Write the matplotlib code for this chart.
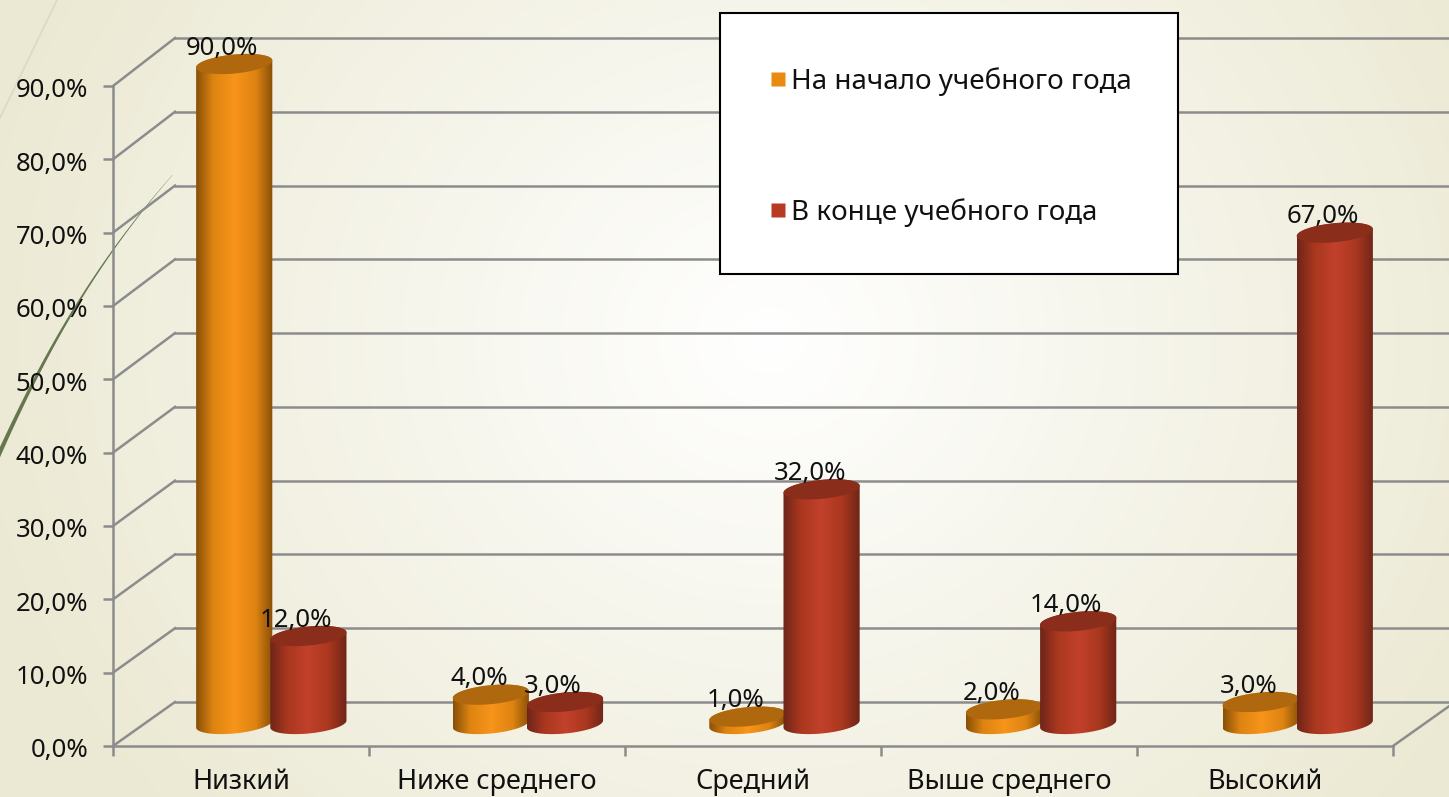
import numpy as np
import matplotlib
matplotlib.use('Agg')
import matplotlib.pyplot as plt
from matplotlib.colors import LinearSegmentedColormap
from matplotlib.lines import Line2D
from matplotlib.patches import PathPatch, Polygon, Rectangle
from matplotlib.path import Path
from matplotlib.ticker import FuncFormatter
from matplotlib.transforms import Affine2D

categories = ['Низкий', 'Ниже среднего', 'Средний', 'Выше среднего', 'Высокий']
start_year = [90, 4, 1, 2, 3]
end_year = [12, 3, 32, 14, 67]
series_names = ['На начало учебного года', 'В конце учебного года']
yticks = [0, 10, 20, 30, 40, 50, 60, 70, 80, 90]

W, H = 1449, 797
plt.rcParams['font.family'] = ['Noto Sans', 'DejaVu Sans']
fig = plt.figure(figsize=(W / 100, H / 100), dpi=100)

# background
bg = fig.add_axes([0, 0, 1, 1], zorder=-1)
gx, gy = np.meshgrid(np.linspace(0, W, 300), np.linspace(0, H, 170))
d = np.clip(np.sqrt(((gx - 770) / 800) ** 2 + ((gy - 340) / 720) ** 2), 0, 1)[..., None]
edge = np.array([0.925, 0.915, 0.83])
bg.imshow(np.ones(3) * (1 - d) + edge * d, extent=[0, W, H, 0], aspect='auto', interpolation='bilinear')
bg.set_xlim(0, W)
bg.set_ylim(H, 0)
bg.axis('off')

# slide decoration
bg.plot([57, 0], [0, 118], color='#d8dac8', lw=1.2)
fit = np.polyfit([175, 200, 257, 323, 380, 453], [175, 147, 110, 67, 33, 0], 3)
cy = np.linspace(175, 460, 60)
cx = np.polyval(fit, cy)
cw = np.linspace(0.15, 2.4, 60)
bg.add_patch(Polygon(np.r_[np.c_[cx - cw, cy], np.c_[cx + cw, cy][::-1]], fc='#66774f', ec='none'))

# plot area is the front plane of the box
ax = fig.add_axes([113 / W, (H - 746) / H, 1280 / W, 660 / H])
ax.patch.set_alpha(0)
ax.set_xlim(0, 5)
ax.set_ylim(0, 90)

grid_color = '#8c8c8c'
grid_lw = 1.8
back = ax.transData + Affine2D().translate(62, 44)
mid = ax.transData + Affine2D().translate(-113, 0).scale(256.6 / 256, 1).translate(113 + 30, 22)
wall = 664 / 660

for v in yticks:
    ax.plot([0, 5], [v * wall, v * wall], transform=back, color=grid_color, lw=grid_lw, clip_on=False, zorder=1)
    # side wall diagonal
    p0 = ax.transData.transform((0, v))
    p1 = back.transform((0, v * wall))
    ax.add_line(Line2D([p0[0], p1[0]], [p0[1], p1[1]], transform=None, color=grid_color, lw=grid_lw, zorder=1, clip_on=False))
p0 = ax.transData.transform((5, 0))
p1 = back.transform((5, 0))
ax.add_line(Line2D([p0[0], p1[0]], [p0[1], p1[1]], transform=None, color=grid_color, lw=grid_lw, zorder=1, clip_on=False))

for s in ['top', 'right']:
    ax.spines[s].set_visible(False)
for s in ['left', 'bottom']:
    ax.spines[s].set_color(grid_color)
    ax.spines[s].set_linewidth(grid_lw)

ax.set_yticks(yticks)
ax.yaxis.set_major_formatter(FuncFormatter(lambda v, pos: f'{v:.1f}%'.replace('.', ',')))
ax.set_xticks(range(6))
ax.set_xticklabels([])
ax.set_xticks([i + 0.5 for i in range(5)], categories, minor=True)
ax.tick_params(axis='y', length=7, width=grid_lw, color=grid_color, labelsize=18.5, pad=11, labelcolor='#111111')
ax.tick_params(axis='x', which='major', length=7, width=grid_lw, color=grid_color)
ax.tick_params(axis='x', which='minor', length=0, labelsize=19.5, pad=16, labelcolor='#111111')
for lab in ax.get_yticklabels():
    lab.set_transform(lab.get_transform() + Affine2D().translate(0, -2))

px_x = 5 / 1280
px_y = 90 / 660
bar_w = 76 * px_x


def shade(c_edge, c_side, c_mid):
    return LinearSegmentedColormap.from_list('c', [(0, c_edge), (0.22, c_side), (0.5, c_mid), (0.78, c_side), (1, c_edge)])


def cylinder(xc, val, cmap, top_color, z):
    a = bar_w / 2
    b = 9.5 * px_y
    s = 3.5 * px_y
    t = np.linspace(0, 2 * np.pi, 120)
    # lower half of base + upper half of top
    t_low = np.linspace(np.pi, 2 * np.pi, 60)
    t_up = np.linspace(0, np.pi, 60)
    ex = np.r_[xc + a * np.cos(t_low), xc + a * np.cos(t_up)]
    ey = np.r_[b * np.sin(t_low) + s * np.cos(t_low), val + b * np.sin(t_up) + s * np.cos(t_up)]
    body = PathPatch(Path(np.c_[ex, ey]), transform=mid, fc='none', ec='none', zorder=z)
    ax.add_patch(body)
    im = ax.imshow(np.linspace(0, 1, 64)[None, :], extent=[xc - a, xc + a, -5, val + 5], cmap=cmap, aspect='auto',
                   transform=mid, zorder=z, interpolation='bilinear')
    im.set_clip_box(fig.bbox)
    im.set_clip_path(body)
    ax.fill(xc + a * np.cos(t), val + b * np.sin(t) + s * np.cos(t), transform=mid, color=top_color, lw=0, zorder=z + 0.1, clip_on=False)
    ax.annotate(f'{val:.1f}%'.replace('.', ','), (xc, val), xycoords=mid, xytext=(-12 * 0.72, 16 * 0.72),
                textcoords='offset points', ha='center', va='center', fontsize=18.5, color='#111111', zorder=15)


orange = shade('#8a5107', '#de8412', '#f8941a')
red = shade('#6f2618', '#a9371f', '#c2412b')
for i in range(5):
    cylinder(i + 0.5 - 37 * px_x, start_year[i], orange, '#b0680f', 5 + i)
    cylinder(i + 0.5 + 37 * px_x, end_year[i], red, '#8a2d1b', 5.5 + i)
ax.set_xlim(0, 5)
ax.set_ylim(0, 90)

# legend box
ax.add_patch(Rectangle((720 / W, (H - 274) / H), 458 / W, 261 / H, transform=fig.transFigure, fc='white', ec='black',
                       lw=1.5, clip_on=False, zorder=20))
handles = [Line2D([], [], marker='s', ls='none', ms=10.5, mfc='#e98a11', mec='none'),
           Line2D([], [], marker='s', ls='none', ms=10.5, mfc='#b83a25', mec='none')]
leg = ax.legend(handles, series_names, loc='upper left', bbox_to_anchor=(764 / W, (H - 67) / H),
                bbox_transform=fig.transFigure, frameon=False, fontsize=20, labelspacing=3.68, handlelength=1,
                handletextpad=-0.03, labelcolor='#111111', borderpad=0, borderaxespad=0)
leg.set_zorder(21)

fig.savefig('out.png', dpi=100)
